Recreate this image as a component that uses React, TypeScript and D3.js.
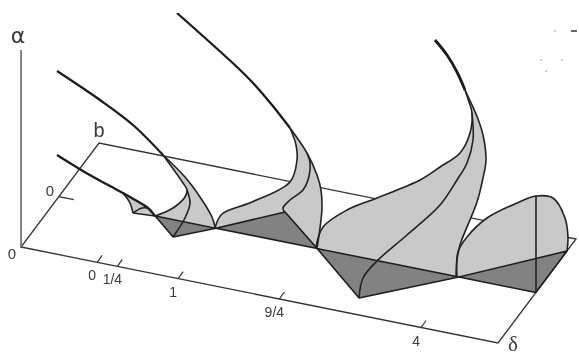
import React from 'react';
import * as d3 from 'd3';

type Pt = number[];

const width = 579;
const height = 355;

// axis ranges and tick values
const deltaRange = [-0.94, 4.95];
const bRange = [-0.485, 0.515];
const deltaTicks = [0, 0.25, 1, 2.25, 4];
const deltaTickLabels = ['0', '1/4', '1', '9/4', '4'];
const bTicks = [0];

// fold points on the floor, as [delta, b]
const floorA: Pt[] = [[0.25, 0], [0.612, -0.146], [1, 0]];
const floorB: Pt[] = [[1, 0], [1.612, 0.251], [2.25, 0]];
const floorC: Pt[] = [[2.25, 0], [3.098, -0.343], [4, 0]];
const floorD: Pt[] = [[4, 0], [4.95, 0], [4.95, 0.4]];

const tail1: Pt[] = [[36, 92], [67, 73], [89, 61], [102, 54], [109, 50], [127, 39], [134, 31]];
const tail1Tip: Pt[] = [[102, 54], [109, 44], [112, 34]];
const tail1Inner: Pt[] = [[112, 34], [121, 39], [127, 39]];
const tail1Base: Pt[] = [[112, 34], [134, 31]];

const tail2: Pt[] = [[36, 176], [79, 147], [112, 122], [142, 92]];
const outer2: Pt[] = [[142, 92], [164, 70], [179, 50], [191, 30], [194, 20]];
const inner2a: Pt[] = [[142, 92], [162, 64], [166, 57], [164, 50], [152, 39], [134, 31]];
const inner2b: Pt[] = [[166, 57], [169, 44], [164, 29], [152, 10]];

const tail3: Pt[] = [[156, 234], [216, 180], [232, 164], [251, 142], [269, 119]];
const outer3: Pt[] = [[269, 119], [286, 94], [296, 72], [300, 57], [301, 39], [299, 19], [296, -1]];
const inner3a: Pt[] = [[269, 119], [275, 102], [276, 87], [269, 65], [231, 45], [201, 33], [194, 19]];
const inner3b: Pt[] = [[286, 94], [289, 84], [287, 67], [282, 57], [269, 47], [262, 39], [264, 34]];

const tail4: Pt[] = [[414, 207], [426, 192], [436, 175], [444, 157]];
const outer4: Pt[] = [[444, 157], [451, 142], [457, 128], [462, 112], [465, 87], [462, 69], [456, 45], [439, 2], [436, -13], [435, -30]];
const inner4a: Pt[] = [[444, 157], [448, 145], [451, 134], [449, 114], [439, 94], [419, 80], [399, 67], [356, 49], [326, 37], [302, 20], [295, 0]];
const inner4b: Pt[] = [[451, 134], [452, 107], [446, 84], [436, 67], [419, 42], [386, 12], [356, -14], [342, -31], [338, -51]];

const dome: Pt[] = [[436, -30], [437, -5], [446, 10], [466, 29], [496, 44], [515, 51], [532, 49], [544, 29], [547, 9], [546, -4]];
const domeRib: Pt[] = [[515, 51], [515, -45]];

// scanner specks in the top right corner of the picture
const specks: Pt[] = [[534, 216], [520, 187], [541, 187], [525, 176]];
const speckDash: Pt[] = [[550, 216], [556, 216]];

// page plane
const x = d3.scaleLinear().domain([0, 558]).range([21, 579]);
const y = d3.scaleLinear().domain([0, 247]).range([247, 0]);

// oblique projection of the floor
const uDelta = d3.scaleLinear().domain(deltaRange).range([0, 477]);
const vDelta = d3.scaleLinear().domain(deltaRange).range([0, -96]);
const uB = d3.scaleLinear().domain(bRange).range([0, 78]);
const vB = d3.scaleLinear().domain(bRange).range([0, 104]);

const floor = (d: number, b: number): Pt => [uDelta(d) + uB(b), vDelta(d) + vB(b)];

const straight = d3.line<Pt>().x((d) => x(d[0])).y((d) => y(d[1]));
const smooth = d3.line<Pt>().x((d) => x(d[0])).y((d) => y(d[1])).curve(d3.curveCatmullRom.alpha(0.5));

const joined = (...parts: Pt[][]) =>
  parts.map((p, i) => (i === 0 ? smooth(p) : (smooth(p) as string).replace('M', 'L'))).join('') + 'Z';

const floorPath = (pts: Pt[]) => straight(pts.map((p) => floor(p[0], p[1]))) + 'Z';

const rev = (p: Pt[]) => p.slice().reverse();

const LIGHT = '#c9c9c9';
const DARK = '#828282';
const INK = '#222';

export default function App() {
  const frame = [
    floor(deltaRange[0], bRange[0]),
    floor(deltaRange[1], bRange[0]),
    floor(deltaRange[1], bRange[1]),
    floor(deltaRange[0], bRange[1]),
  ];
  const origin = frame[0];

  const light = [
    joined(tail1.slice(3), rev(tail1Base), rev(tail1Tip)),
    joined(inner2a, rev(outer2)),
    joined(rev(inner3a), outer3),
    joined(rev(inner4a), outer4),
    joined(dome),
  ];
  const edges = [tail1Tip, tail1Inner, outer2, inner2a, inner2b, outer3, inner3a, inner3b, outer4, inner4a, inner4b, dome, domeRib];
  const tails = [tail1, tail2, tail3, tail4];

  const textStyle = { fontFamily: '"Liberation Sans", Arial, sans-serif', fill: '#3a3a3a' };

  return (
    <svg width={width} height={height} style={{ position: 'absolute', left: 0, top: 0, background: '#fff' }}>
      <defs>
        <filter id="soft" x="0" y="0" width="100%" height="100%">
          <feGaussianBlur stdDeviation="0.35" />
        </filter>
      </defs>
      <g filter="url(#soft)">
        {/* floor frame and the a axis */}
        <path d={straight(frame) + 'Z'} fill="none" stroke="#333" strokeWidth={1.3} />
        <path d={straight([origin, [0, 197]]) as string} fill="none" stroke="#777" strokeWidth={1.8} />

        {deltaTicks.map((t, i) => {
          const p = floor(t, bRange[0]);
          return (
            <g key={t}>
              <line x1={x(p[0])} y1={y(p[1])} x2={x(p[0]) + 5} y2={y(p[1]) - 7} stroke="#333" strokeWidth={1.2} />
              <text x={x(p[0]) - 5} y={y(p[1]) + 18} textAnchor="middle" fontSize={14} style={textStyle}>
                {deltaTickLabels[i]}
              </text>
            </g>
          );
        })}
        {bTicks.map((t) => {
          const p = floor(deltaRange[0], t);
          return (
            <g key={t}>
              <line x1={x(p[0])} y1={y(p[1])} x2={x(p[0]) + 15} y2={y(p[1]) + 3} stroke="#333" strokeWidth={1.2} />
              <text x={x(p[0]) - 9} y={y(p[1]) - 1} textAnchor="middle" fontSize={15} style={textStyle}>0</text>
            </g>
          );
        })}
        <text x={12} y={259} textAnchor="middle" fontSize={15} style={textStyle}>0</text>

        {light.map((d, i) => <path key={i} d={d} fill={LIGHT} />)}

        {[floorA, floorB, floorC, floorD].map((t, i) => (
          <path key={i} d={floorPath(t)} fill={DARK} stroke="#1e1e1e" strokeWidth={1.6} strokeLinejoin="round" />
        ))}
        <path d={straight(tail1Base) as string} fill="none" stroke={INK} strokeWidth={1.3} />

        {edges.map((e, i) => (
          <path key={i} d={smooth(e) as string} fill="none" stroke={INK} strokeWidth={1.6} />
        ))}
        {tails.map((e, i) => (
          <path key={i} d={smooth(e) as string} fill="none" stroke="#1a1a1a" strokeWidth={i === 3 ? 2.8 : 2.3} />
        ))}

        {specks.map((s, i) => <circle key={i} cx={x(s[0])} cy={y(s[1])} r={0.7} fill="#777" />)}
        <path d={straight(speckDash) as string} stroke="#222" strokeWidth={1.4} fill="none" />

        <text x={18} y={43} textAnchor="middle" fontSize={22} style={{ ...textStyle, fontFamily: '"DejaVu Sans", sans-serif' }}>α</text>
        <text x={99} y={137} textAnchor="middle" fontSize={20} style={textStyle}>b</text>
        <text x={513} y={351} textAnchor="middle" fontSize={21} style={{ ...textStyle, fontFamily: '"Liberation Serif", serif' }}>δ</text>
      </g>
    </svg>
  );
}
